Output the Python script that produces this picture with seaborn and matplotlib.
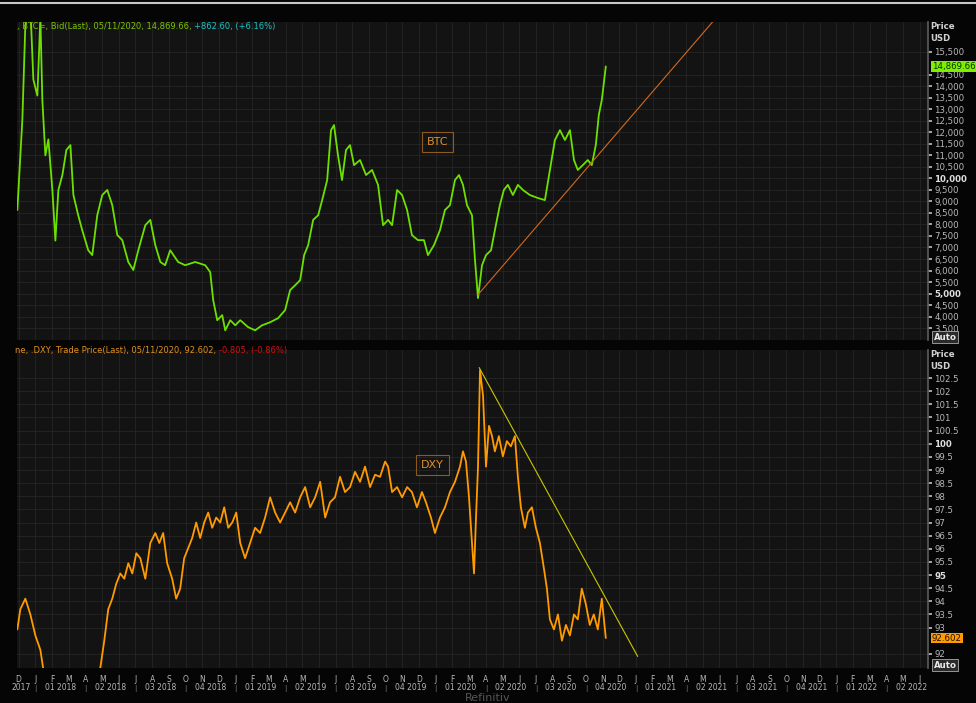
import numpy as np
import pandas as pd
import matplotlib
matplotlib.use("Agg")
import matplotlib.pyplot as plt
import seaborn as sns

# time in months since Jan 2018
btc_t = [-1.08,-0.78,-0.60,-0.30,-0.12,0.12,0.30,0.42,0.60,0.78,1.02,1.20,1.38,1.62,1.86,2.10,2.28,2.57,2.81,3.17,3.41,3.71,4.01,4.31,4.61,4.91,5.21,5.57,5.87,6.17,6.59,6.89,7.19,7.49,7.78,8.08,8.56,8.98,9.58,10.18,10.48,10.66,10.90,11.20,11.38,11.68,11.98,12.28,12.75,13.17,13.59,14.07,14.55,14.97,15.27,15.57,15.87,16.11,16.35,16.65,16.95,17.19,17.49,17.72,17.90,18.14,18.38,18.62,18.86,19.10,19.46,19.82,20.18,20.54,20.84,21.14,21.38,21.68,21.98,22.28,22.57,22.93,23.29,23.53,23.89,24.25,24.55,24.85,25.15,25.39,25.63,25.87,26.17,26.35,26.53,26.77,27.01,27.31,27.60,27.84,28.08,28.32,28.62,28.92,29.22,29.64,30.12,30.54,30.84,31.14,31.44,31.74,32.04,32.28,32.51,32.81,33.11,33.35,33.59,33.77,33.95,34.19]
btc_v = [8630,12540,16670,17500,14300,13600,17000,13400,11000,11700,9500,7300,9500,10150,11240,11450,9280,8400,7750,6880,6670,8400,9280,9500,8840,7540,7320,6370,6020,6880,7970,8200,7100,6370,6230,6880,6370,6230,6370,6230,5930,4710,3840,4060,3400,3840,3620,3840,3540,3400,3620,3750,3930,4280,5150,5360,5580,6670,7100,8200,8400,9060,9930,12100,12320,11000,9930,11240,11450,10580,10800,10150,10370,9720,7970,8200,7970,9500,9280,8630,7540,7320,7320,6670,7100,7750,8630,8840,9930,10150,9720,8840,8400,6450,4800,6230,6670,6880,7970,8840,9500,9720,9280,9720,9500,9280,9150,9060,10370,11670,12100,11670,12100,10800,10370,10580,10800,10580,11450,12760,13410,14869.66]

dxy_t = [-1.08,-0.90,-0.60,-0.30,0,0.30,0.48,0.90,2.10,3.29,3.89,4.13,4.37,4.61,4.85,5.09,5.33,5.57,5.81,6.05,6.29,6.59,6.89,7.19,7.43,7.66,7.90,8.20,8.44,8.68,8.92,9.16,9.40,9.64,9.88,10.12,10.36,10.60,10.84,11.08,11.32,11.56,11.80,12.04,12.28,12.57,12.87,13.17,13.47,13.77,14.07,14.37,14.67,14.97,15.27,15.57,15.87,16.17,16.47,16.77,17.07,17.37,17.66,17.96,18.26,18.56,18.86,19.16,19.46,19.76,20.06,20.36,20.66,20.96,21.14,21.38,21.68,21.98,22.28,22.57,22.87,23.17,23.41,23.71,23.95,24.25,24.55,24.85,25.15,25.45,25.63,25.81,25.99,26.17,26.29,26.41,26.53,26.65,26.83,27.01,27.19,27.37,27.54,27.78,28.02,28.26,28.50,28.74,28.92,29.10,29.34,29.52,29.76,30.00,30.24,30.48,30.66,30.84,31.08,31.32,31.56,31.80,32.04,32.28,32.51,32.75,32.99,33.23,33.47,33.71,33.95,34.19]
dxy_v = [92.93,93.7,94.1,93.5,92.7,92.15,91.4,89.0,89.5,89.8,91.45,92.5,93.7,94.1,94.67,95.06,94.86,95.45,95.06,95.83,95.64,94.86,96.22,96.6,96.22,96.6,95.45,94.86,94.1,94.48,95.64,96.03,96.41,97.0,96.41,97.0,97.38,96.8,97.19,97.0,97.58,96.8,97.0,97.38,96.22,95.64,96.22,96.8,96.6,97.19,97.96,97.38,97.0,97.38,97.77,97.38,97.96,98.35,97.58,97.96,98.55,97.19,97.77,97.96,98.74,98.16,98.35,98.93,98.55,99.13,98.35,98.82,98.74,99.32,99.13,98.16,98.35,97.96,98.35,98.16,97.58,98.16,97.77,97.19,96.6,97.19,97.58,98.16,98.55,99.13,99.71,99.32,97.96,96.22,95.06,97.19,99.13,102.8,101.84,99.13,100.68,100.29,99.71,100.29,99.52,100.1,99.9,100.29,98.74,97.58,96.8,97.38,97.58,96.8,96.22,95.25,94.48,93.31,92.93,93.5,92.5,93.1,92.7,93.5,93.31,94.48,93.9,93.1,93.5,92.93,94.1,92.602]

btc_trend_t = [26.53, 40.8]
btc_trend_v = [4950, 16980]
dxy_trend_t = [26.6, 36.1]
dxy_trend_v = [102.9, 91.9]

month_letters = list("DJFMAMJJASON")
quarter_labels = ["01 2018","02 2018","03 2018","04 2018","01 2019","02 2019","03 2019","04 2019",
                  "01 2020","02 2020","03 2020","04 2020","01 2021","02 2021","03 2021","04 2021",
                  "01 2022","02 2022"]

sns.set_theme(style="dark")
plt.rcParams['font.family'] = ['DejaVu Sans']
BG = "#050505"; FACE = "#131313"; GRID = "#262626"; TXT = "#b8b8b8"

fig = plt.figure(figsize=(9.76, 7.03), dpi=100, facecolor=BG)
W, H = 976, 703
def axr(x0, y0, x1, y1):
    return [x0/W, 1-y1/H, (x1-x0)/W, (y1-y0)/H]
ax1 = fig.add_axes(axr(17, 22, 928, 340))
ax2 = fig.add_axes(axr(17, 350, 928, 668))
XL = (-1.1, 53.5)

btc = pd.DataFrame({"t": btc_t, "v": btc_v})
dxy = pd.DataFrame({"t": dxy_t, "v": dxy_v})
sns.lineplot(data=btc, x="t", y="v", ax=ax1, color="#6ee000", lw=1.3)
sns.lineplot(x=btc_trend_t, y=btc_trend_v, ax=ax1, color="#d2691e", lw=0.8)
sns.lineplot(data=dxy, x="t", y="v", ax=ax2, color="#ff9a00", lw=1.3)
sns.lineplot(x=dxy_trend_t, y=dxy_trend_v, ax=ax2, color="#c8c800", lw=0.8)

ax1.set_ylim(2980, 16800)
ax2.set_ylim(91.46, 103.57)
btc_ticks = [v for v in range(3500, 16000, 500) if v != 15000]
dxy_ticks = [v for v in np.arange(92, 103, 0.5) if v != 92.5]
for ax, ticks, fmt, bold in [(ax1, btc_ticks, lambda v: f"{v:,.0f}", (5000, 10000)),
                             (ax2, dxy_ticks, lambda v: f"{v:g}", (95, 100))]:
    ax.set_facecolor(FACE)
    ax.set_xlim(*XL)
    ax.set_xlabel(""); ax.set_ylabel("")
    ax.yaxis.tick_right()
    ax.set_yticks(ticks)
    ax.set_yticklabels([fmt(v) for v in ticks], fontsize=6.2, color=TXT)
    for lbl, v in zip(ax.get_yticklabels(), ticks):
        if v in bold:
            lbl.set_fontweight("bold"); lbl.set_color("#e0e0e0")
    ax.tick_params(axis="y", length=3, color=TXT, pad=1.5, right=True)
    ax.set_xticks(range(-1, 54))
    ax.tick_params(axis="x", length=0, labelbottom=False)
    ax.grid(True, color=GRID, lw=0.6)
    for s in ax.spines.values():
        s.set_visible(False)
    ax.spines["right"].set_visible(True); ax.spines["right"].set_color("#5a5a5a")
    ax.text(1.003, 1.0, "Price\nUSD", transform=ax.transAxes, fontsize=6.2, color="#d0d0d0",
            fontweight="bold", va="top", ha="left", linespacing=1.4, clip_on=False)
    ax.text(1.006, -0.005, "Auto", transform=ax.transAxes, fontsize=6.2, color="#e8e8e8",
            fontweight="bold", va="bottom", ha="left",
            bbox=dict(boxstyle="square,pad=0.15", fc="#2a2a2a", ec="#aaaaaa", lw=0.6))

ax1.text(1.004, btc_v[-1], f"{btc_v[-1]:,.2f}", transform=ax1.get_yaxis_transform(), fontsize=6.2,
         color="#103000", va="center", ha="left", bbox=dict(boxstyle="square,pad=0.1", fc="#7cf000", ec="none"))
ax2.text(1.004, dxy_v[-1], f"{dxy_v[-1]:.3f}", transform=ax2.get_yaxis_transform(), fontsize=6.2,
         color="#201000", va="center", ha="left", bbox=dict(boxstyle="square,pad=0.1", fc="#ff9a00", ec="none"))

ax1.text(24.1, 11600, "BTC", color="#e0902a", fontsize=8, ha="center", va="center",
         bbox=dict(boxstyle="square,pad=0.45", fc="none", ec="#8a5a20", lw=0.8))
ax2.text(23.8, 99.2, "DXY", color="#e0902a", fontsize=8, ha="center", va="center",
         bbox=dict(boxstyle="square,pad=0.45", fc="none", ec="#8a5a20", lw=0.8))

# headers: two-colour text pieces placed one after another
renderer = fig.canvas.get_renderer()
def chain(x, y, parts):
    for s, c in parts:
        t = fig.text(x/W, 1-y/H, s, color=c, fontsize=6, va="center", ha="left")
        x += t.get_window_extent(renderer).width
chain(17, 26, [(", BTC=, Bid(Last), 05/11/2020, 14,869.66, ", "#7cc000"), ("+862.60, (+6.16%)", "#20c0c0")])
chain(15, 351, [("ne, .DXY, Trade Price(Last), 05/11/2020, 92.602, ", "#e09020"), ("-0.805, (-0.86%)", "#d01010")])

def xpix(t):
    return (17 + (t - XL[0]) / (XL[1] - XL[0]) * 911) / W
for m in range(-1, 54):
    fig.text(xpix(m), 1-679/H, month_letters[(m + 1) % 12], color=TXT, fontsize=5.5, ha="center", va="center")
fig.text(xpix(-0.25), 1-688/H, "2017", color=TXT, fontsize=5.5, ha="right", va="center")
for q, lab in enumerate(quarter_labels):
    fig.text(xpix(q*3+1.5), 1-688/H, lab, color=TXT, fontsize=5.5, ha="center", va="center")
    fig.text(xpix(q*3), 1-688/H, "|", color="#777777", fontsize=5, ha="center", va="center")
fig.add_artist(plt.Line2D([0, 1], [1-3/H, 1-3/H], color="#c8c8c8", lw=1.5))
fig.text(0.5, 1-698/H, "Refinitiv", color="#555555", fontsize=8, ha="center", va="center")

fig.savefig("out.png", dpi=100, facecolor=BG)
